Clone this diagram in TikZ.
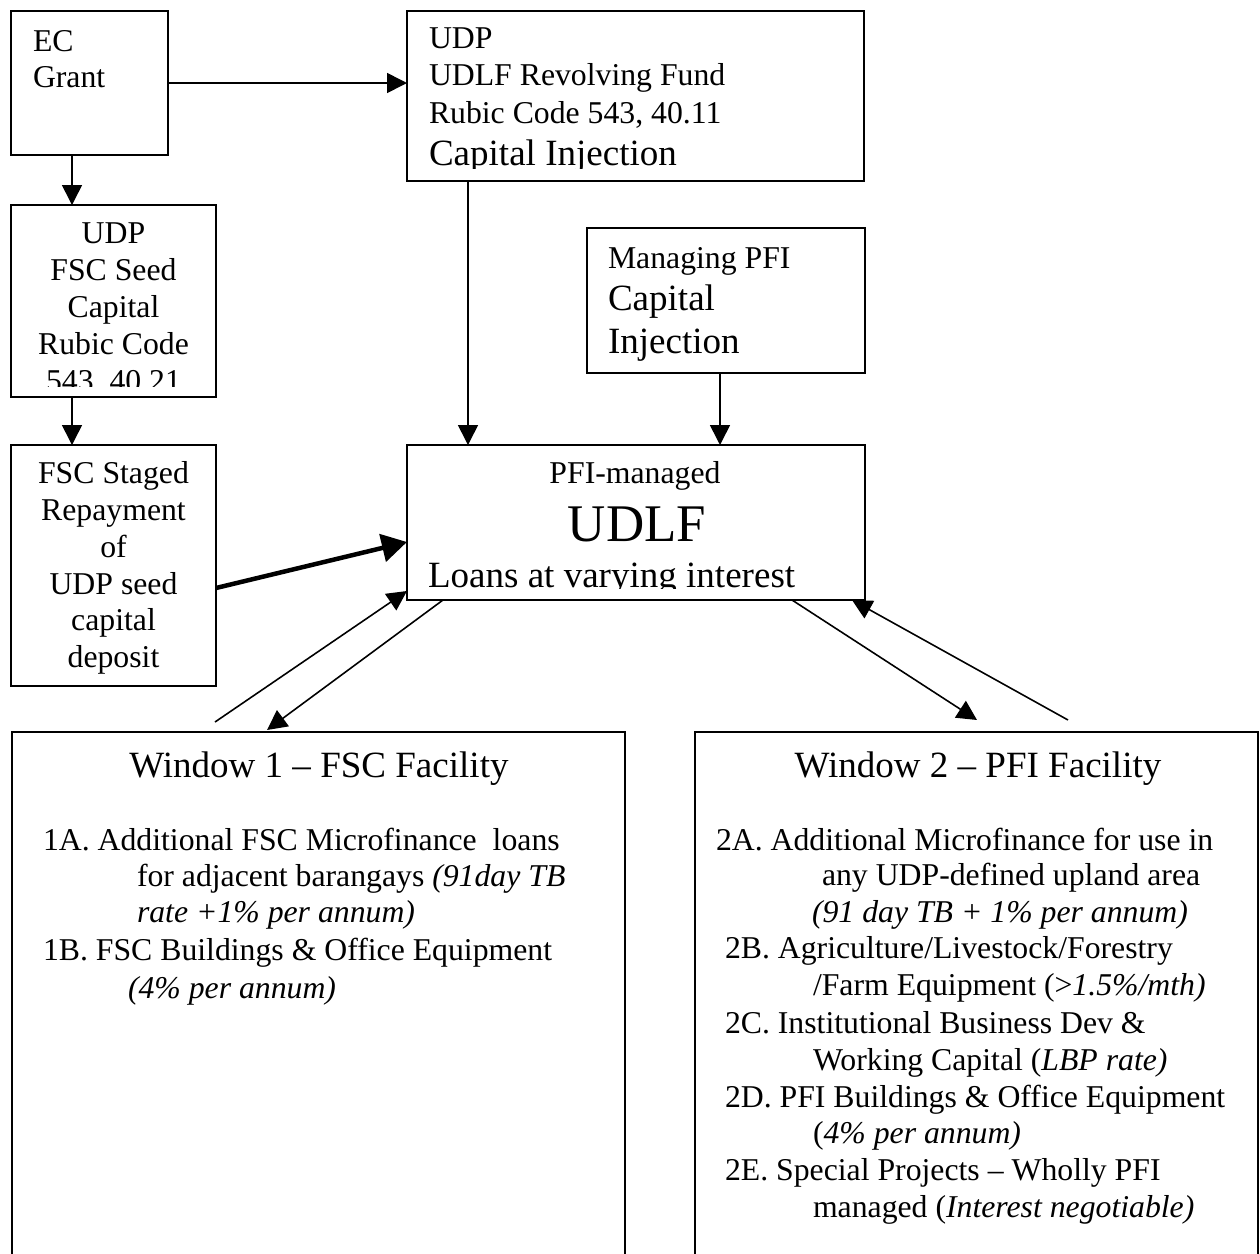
\documentclass[tikz,border=0pt]{standalone}
\usepackage{fontspec}
\setmainfont{Liberation Serif}
\usetikzlibrary{arrows.meta,fit}

\begin{document}
\begin{tikzpicture}[x=0.378pt,y=-0.378pt,
  box/.style={draw,line width=0.75pt,inner sep=0pt,outer sep=0pt},
  arr/.style={line width=0.6pt,-{Triangle[length=7.5pt,width=7.5pt]}},
  plain/.style={line width=0.6pt},
  thickarr/.style={line width=1.7pt,-{Triangle[length=9.5pt,width=10.5pt]}},
  ts/.style={inner sep=0pt,outer sep=0pt,font=\fontsize{12}{14}\selectfont},
  tm/.style={inner sep=0pt,outer sep=0pt,font=\fontsize{14}{16}\selectfont},
  tl/.style={inner sep=0pt,outer sep=0pt,font=\fontsize{20}{23}\selectfont}]

\useasboundingbox (0,0) rectangle (1260,1254);
\clip (0,0) rectangle (1260,1254);

% boxes
\node[box,fit={(11,11) (168,155)}]    (ec)     {};
\node[box,fit={(407,11) (864,181)}]   (udp)    {};
\node[box,fit={(11,205) (216,397)}]   (seed)   {};
\node[box,fit={(587,228) (865,373)}]  (pfi)    {};
\node[box,fit={(11,445) (216,686)}]   (staged) {};
\node[box,fit={(407,445) (865,600)}]  (udlf)   {};
\node[box,fit={(12,732) (625,1300)}]  (win1)   {};
\node[box,fit={(695,732) (1258,1300)}] (win2)  {};

% EC grant
\node[ts,anchor=base west] (ec1) at (33,51) {EC};
\node[ts,anchor=base west] (ec2) at (33,87) {Grant};

% UDP revolving fund
\begin{scope}
\clip (407,11) rectangle (864,168);
\node[ts,anchor=base west] (udp1) at (429,48)  {UDP};
\node[ts,anchor=base west] (udp2) at (429,85)  {UDLF Revolving Fund};
\node[ts,anchor=base west] (udp3) at (429,123) {Rubic Code 543, 40.11};
\node[tm,anchor=base west] (udp4) at (429,165) {Capital Injection};
\end{scope}

% UDP seed capital
\begin{scope}
\clip (11,205) rectangle (216,386);
\node[ts,anchor=base] (sd1) at (113.5,243) {UDP};
\node[ts,anchor=base] (sd2) at (113.5,280) {FSC Seed};
\node[ts,anchor=base] (sd3) at (113.5,317) {Capital};
\node[ts,anchor=base] (sd4) at (113.5,354) {Rubic Code};
\node[ts,anchor=base] (sd5) at (113.5,391) {543, 40.21};
\end{scope}

% managing PFI
\node[ts,anchor=base west] (pf1) at (608,268) {Managing PFI};
\node[tm,anchor=base west] (pf2) at (608,310) {Capital};
\node[tm,anchor=base west] (pf3) at (608,353) {Injection};

% staged repayment
\node[ts,anchor=base] (st1) at (113.5,483) {FSC Staged};
\node[ts,anchor=base] (st2) at (113.5,520) {Repayment};
\node[ts,anchor=base] (st3) at (113.5,557) {of};
\node[ts,anchor=base] (st4) at (113.5,594) {UDP seed};
\node[ts,anchor=base] (st5) at (113.5,630) {capital};
\node[ts,anchor=base] (st6) at (113.5,667) {deposit};

% PFI-managed UDLF
\begin{scope}
\clip (407,445) rectangle (865,588);
\node[ts,anchor=base] (ud1) at (635,483) {PFI-managed};
\node[tl,anchor=base] (ud2) at (637,541) {UDLF};
\node[tm,anchor=base west] (ud3) at (428,587) {Loans at varying interest};
\end{scope}

% window 1
\node[tm,anchor=base] (w1t) at (319,777) {Window 1 – FSC Facility};
\node[ts,anchor=base west] (w1a) at (43,850)  {1A. Additional FSC Microfinance\ \ loans};
\node[ts,anchor=base west] (w1b) at (137,886) {for adjacent barangays \textit{(91day TB}};
\node[ts,anchor=base west] (w1c) at (137,922) {\textit{rate +1\% per annum)}};
\node[ts,anchor=base west] (w1d) at (43,960)  {1B. FSC Buildings \& Office Equipment};
\node[ts,anchor=base west] (w1e) at (128,998) {\textit{(4\% per annum)}};

% window 2
\node[tm,anchor=base] (w2t) at (978,777) {Window 2 – PFI Facility};
\node[ts,anchor=base west] (w2a) at (716,850)  {2A. Additional Microfinance for use in};
\node[ts,anchor=base west] (w2b) at (822,885)  {any UDP-defined upland area};
\node[ts,anchor=base west] (w2c) at (812,922)  {\textit{(91 day TB + 1\% per annum)}};
\node[ts,anchor=base west] (w2d) at (725,958)  {2B. Agriculture/Livestock/Forestry};
\node[ts,anchor=base west] (w2e) at (813,995)  {/Farm Equipment (>\textit{1.5\%/mth)}};
\node[ts,anchor=base west] (w2f) at (725,1033) {2C. Institutional Business Dev \&};
\node[ts,anchor=base west] (w2g) at (813,1070) {Working Capital (\textit{LBP rate)}};
\node[ts,anchor=base west] (w2h) at (725,1107) {2D. PFI Buildings \& Office Equipment};
\node[ts,anchor=base west] (w2i) at (813,1143) {(\textit{4\% per annum)}};
\node[ts,anchor=base west] (w2j) at (725,1180) {2E. Special Projects – Wholly PFI};
\node[ts,anchor=base west] (w2k) at (813,1217) {managed (\textit{Interest negotiable)}};

% connector end points
\coordinate (ecS)    at (72,155);
\coordinate (udpS)   at (468,181);
\coordinate (pfiS)   at (720,373);
\coordinate (stR)    at (216,588);
\coordinate (udlfL)  at (407,542);
\coordinate (w1up)   at (215,722);
\coordinate (udlfSW) at (407,591);
\coordinate (udlfB1) at (443,600);
\coordinate (w1dn)   at (267,730);
\coordinate (udlfB2) at (792,600);
\coordinate (w2dn)   at (977,720);
\coordinate (w2up)   at (1068,720);
\coordinate (udlfB3) at (852,600);

% connectors
\draw[arr] (ec.east) -- (ec.east -| udp.west);
\draw[arr] (ecS) -- (ecS |- seed.north);
\draw[arr] (ecS |- seed.south) -- (ecS |- staged.north);
\draw[arr] (udpS) -- (udpS |- udlf.north);
\draw[arr] (pfiS) -- (pfiS |- udlf.north);
\draw[thickarr] (stR) -- (udlfL);
\draw[arr] (w1up) -- (udlfSW);
\draw[arr] (udlfB1) -- (w1dn);
\draw[arr] (udlfB2) -- (w2dn);
\draw[arr] (w2up) -- (udlfB3);
\end{tikzpicture}
\end{document}
